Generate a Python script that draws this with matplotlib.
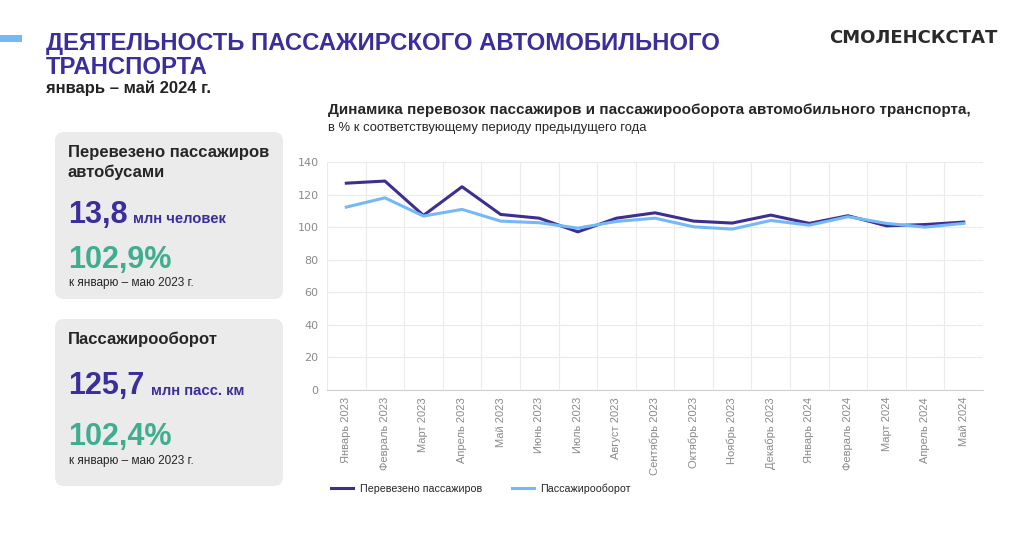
import matplotlib.pyplot as plt
from matplotlib.patches import FancyBboxPatch, Rectangle
import numpy as np

# Данные
months = ["Январь 2023", "Февраль 2023", "Март 2023", "Апрель 2023", "Май 2023",
          "Июнь 2023", "Июль 2023", "Август 2023", "Сентябрь 2023", "Октябрь 2023",
          "Ноябрь 2023", "Декабрь 2023", "Январь 2024", "Февраль 2024", "Март 2024",
          "Апрель 2024", "Май 2024"]
passengers = [127.0, 128.3, 107.2, 124.8, 107.8, 105.5, 97.1, 105.5, 108.8, 103.7,
              102.5, 107.4, 102.3, 107.0, 100.8, 101.6, 103.1]
turnover = [112.3, 118.0, 106.8, 110.9, 103.7, 102.7, 99.4, 103.5, 105.5, 100.2,
            98.8, 104.1, 101.2, 106.4, 102.3, 100.0, 102.3]
y_ticks = [0, 20, 40, 60, 80, 100, 120, 140]

DARK = "#3b2f8f"
LIGHT = "#74b9f5"
TITLE = "#3a2d9c"
GREEN = "#3fae90"
SANS = ["Liberation Sans", "DejaVu Sans"]

W, H = 1024, 533
fig = plt.figure(figsize=(W / 100, H / 100), dpi=100)
fig.patch.set_facecolor("white")

# фон в пиксельных координатах
bg = fig.add_axes([0, 0, 1, 1])
bg.set_xlim(0, W)
bg.set_ylim(H, 0)
bg.axis("off")

bg.add_patch(Rectangle((0, 35), 22, 7, color=LIGHT, lw=0))
bg.text(46, 50, "ДЕЯТЕЛЬНОСТЬ ПАССАЖИРСКОГО АВТОМОБИЛЬНОГО", family=SANS,
        fontsize=17.2, weight="bold", color=TITLE, va="baseline")
bg.text(46, 74, "ТРАНСПОРТА", family=SANS, fontsize=17.2, weight="bold",
        color=TITLE, va="baseline")
bg.text(46, 93, "январь – май 2024 г.", family=SANS, fontsize=12,
        weight="bold", color="#222222", va="baseline")
bg.text(997, 38, "СМОЛЕНСКСТАТ", family="DejaVu Sans", fontsize=13,
        weight="bold", color="#2a2a2a", va="center", ha="right")

# карточки
for y0 in (132, 319):
    bg.add_patch(FancyBboxPatch((55, y0), 228, 167,
                                boxstyle="round,pad=0,rounding_size=9",
                                fc="#ebebeb", ec="none"))

card_title = dict(family=SANS, fontsize=12, weight="bold", color="#262626", va="center")
bg.text(68, 152, "Перевезено пассажиров", **card_title)
bg.text(68, 172, "автобусами", **card_title)
bg.text(68, 215, "13,8", family=SANS, fontsize=22, weight="bold", color=TITLE, va="center")
bg.text(133, 219, "млн человек", family=SANS, fontsize=10.7, weight="bold", color=TITLE, va="center")
bg.text(68, 260, "102,9%", family=SANS, fontsize=22, weight="bold", color=GREEN, va="center")
bg.text(69, 283, "к январю – маю 2023 г.", family=SANS, fontsize=8.5, color="#262626", va="center")

bg.text(68, 339, "Пассажирооборот", **card_title)
bg.text(68, 386, "125,7", family=SANS, fontsize=22, weight="bold", color=TITLE, va="center")
bg.text(151, 391, "млн пасс. км", family=SANS, fontsize=10.7, weight="bold", color=TITLE, va="center")
bg.text(68, 437, "102,4%", family=SANS, fontsize=22, weight="bold", color=GREEN, va="center")
bg.text(69, 461, "к январю – маю 2023 г.", family=SANS, fontsize=8.5, color="#262626", va="center")

# заголовок графика
bg.text(328, 110, "Динамика перевозок пассажиров и пассажирооборота автомобильного транспорта,",
        family=SANS, fontsize=11, weight="bold", color="#262626", va="center")
bg.text(328, 128, "в % к соответствующему периоду предыдущего года",
        family=SANS, fontsize=9.4, color="#262626", va="center")

# график
ax = fig.add_axes([327 / W, (H - 390) / H, 656 / W, 228 / H])
x = np.arange(len(months)) + 0.5
ax.plot(x, passengers, color=DARK, lw=2.2, label="Перевезено пассажиров")
ax.plot(x, turnover, color=LIGHT, lw=2.2, label="Пассажирооборот")
ax.set_xlim(0, len(months))
ax.set_ylim(0, 140)
ax.set_yticks(y_ticks)
ax.set_xticks(np.arange(len(months) + 1), minor=False)
ax.set_xticklabels([])
ax.set_xticks(x, minor=True)
ax.set_xticklabels(months, minor=True, rotation=90, family=SANS, fontsize=8, color="#8a8a8a")
ax.tick_params(axis="x", which="both", length=0, pad=5)
ax.tick_params(axis="y", length=0, pad=6, labelsize=8, labelcolor="#8a8a8a")
ax.grid(True, which="major", color="#ebebeb", lw=0.8)
for s in ["top", "right", "left"]:
    ax.spines[s].set_visible(False)
ax.spines["bottom"].set_color("#d0d0d0")
ax.set_axisbelow(True)

leg = ax.legend(loc="upper left", bbox_to_anchor=(0.0, -0.39), ncol=2, frameon=False,
                prop={"family": SANS, "size": 7.7}, handlelength=2.05,
                columnspacing=2.8, handletextpad=0.6, borderaxespad=0)
for t in leg.get_texts():
    t.set_color("#262626")

fig.savefig("out.png", dpi=100)
